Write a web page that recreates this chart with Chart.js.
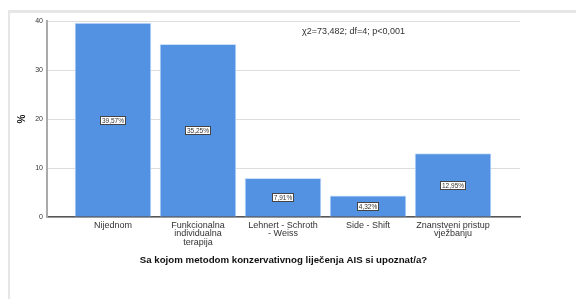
<!DOCTYPE html>
<html>
<head>
<meta charset="utf-8">
<script src="https://cdn.jsdelivr.net/npm/chart.js@4"></script>
<style>
html,body{margin:0;padding:0;background:#fff;}
#wrap{position:relative;width:576px;height:299px;}
</style>
</head>
<body>
<div id="wrap"><canvas id="c" width="576" height="299"></canvas></div>
<script>
const categories = [
  ["Nijednom"],
  ["Funkcionalna", "individualna", "terapija"],
  ["Lehnert - Schroth", "- Weiss"],
  ["Side - Shift"],
  ["Znanstveni pristup", "vježbanju"]
];
const values = [39.57, 35.25, 7.91, 4.32, 12.95];
const valueLabels = ["39,57%", "35,25%", "7,91%", "4,32%", "12,95%"];
const yTicks = [0, 10, 20, 30, 40];
const xTitle = "Sa kojom metodom konzervativnog liječenja AIS si upoznat/a?";
const yTitle = "%";
const statText = "χ2=73,482; df=4; p<0,001";

const FONT = "'Liberation Sans', Arial, sans-serif";

const framePlugin = {
  id: 'frame',
  beforeDraw(chart) {
    const ctx = chart.ctx;
    ctx.save();
    ctx.fillStyle = '#e6e6e6';
    ctx.fillRect(8, 10, 568, 3);
    ctx.fillRect(8, 10, 2, 289);
    ctx.restore();
  }
};

const labelPlugin = {
  id: 'boxLabels',
  afterDatasetsDraw(chart) {
    const ctx = chart.ctx;
    const meta = chart.getDatasetMeta(0);
    ctx.save();
    ctx.font = "6.5px " + FONT;
    ctx.textAlign = 'center';
    ctx.textBaseline = 'middle';
    meta.data.forEach((bar, i) => {
      const cx = bar.x;
      const cy = (bar.y + bar.base) / 2;
      const t = valueLabels[i];
      const w = ctx.measureText(t).width + 3;
      const h = 8;
      ctx.fillStyle = '#fff';
      ctx.fillRect(Math.round(cx - w / 2) + 0.5, Math.round(cy - h / 2) + 0.5, Math.round(w), h);
      ctx.strokeStyle = '#444';
      ctx.lineWidth = 1;
      ctx.strokeRect(Math.round(cx - w / 2) + 0.5, Math.round(cy - h / 2) + 0.5, Math.round(w), h);
      ctx.fillStyle = '#333';
      ctx.fillText(t, cx, cy + 1);
    });
    ctx.font = "9px " + FONT;
    ctx.textAlign = 'left';
    ctx.fillStyle = '#333';
    ctx.fillText(statText, 302, 32);
    ctx.restore();
  }
};

new Chart(document.getElementById('c'), {
  type: 'bar',
  data: {
    datasets: [{
      data: values.map((v, i) => ({ x: i, y: v })),
      backgroundColor: '#5391e3',
      borderColor: 'rgba(200,222,250,0.9)',
      borderWidth: 1,
      barThickness: 76
    }]
  },
  options: {
    responsive: false,
    animation: false,
    events: [],
    layout: { padding: { top: 21, right: 56, left: 0, bottom: 0 } },
    plugins: { legend: { display: false }, tooltip: { enabled: false } },
    scales: {
      x: {
        type: 'linear',
        offset: false,
        min: -0.776,
        max: 4.788,
        afterBuildTicks(scale) { scale.ticks = categories.map((_, i) => ({ value: i })); },
        afterFit(scale) { scale.height = 82; },
        grid: { display: false, drawTicks: false },
        border: { display: true, color: '#555', width: 1.5 },
        ticks: {
          autoSkip: false,
          maxRotation: 0,
          padding: 4,
          color: '#333',
          font: { family: FONT, size: 9, lineHeight: 0.95 },
          callback: (v) => categories[v]
        },
        title: {
          display: true,
          text: xTitle,
          color: '#111',
          font: { family: FONT, size: 9.7, weight: 'bold' },
          padding: { top: 0, bottom: 33 }
        }
      },
      y: {
        min: 0,
        max: 40,
        afterBuildTicks(scale) { scale.ticks = yTicks.map(v => ({ value: v })); },
        afterFit(scale) { scale.width = 47; },
        grid: { color: '#dddddd', lineWidth: 1, drawTicks: false },
        border: { display: true, color: '#aaaaaa', width: 2 },
        ticks: {
          padding: 4,
          color: '#333',
          font: { family: FONT, size: 7 }
        },
        title: {
          display: true,
          text: yTitle,
          color: '#111',
          font: { family: FONT, size: 10, weight: 'bold' },
          padding: { top: 16, bottom: 0 }
        }
      }
    }
  },
  plugins: [framePlugin, labelPlugin]
});
</script>
</body>
</html>
